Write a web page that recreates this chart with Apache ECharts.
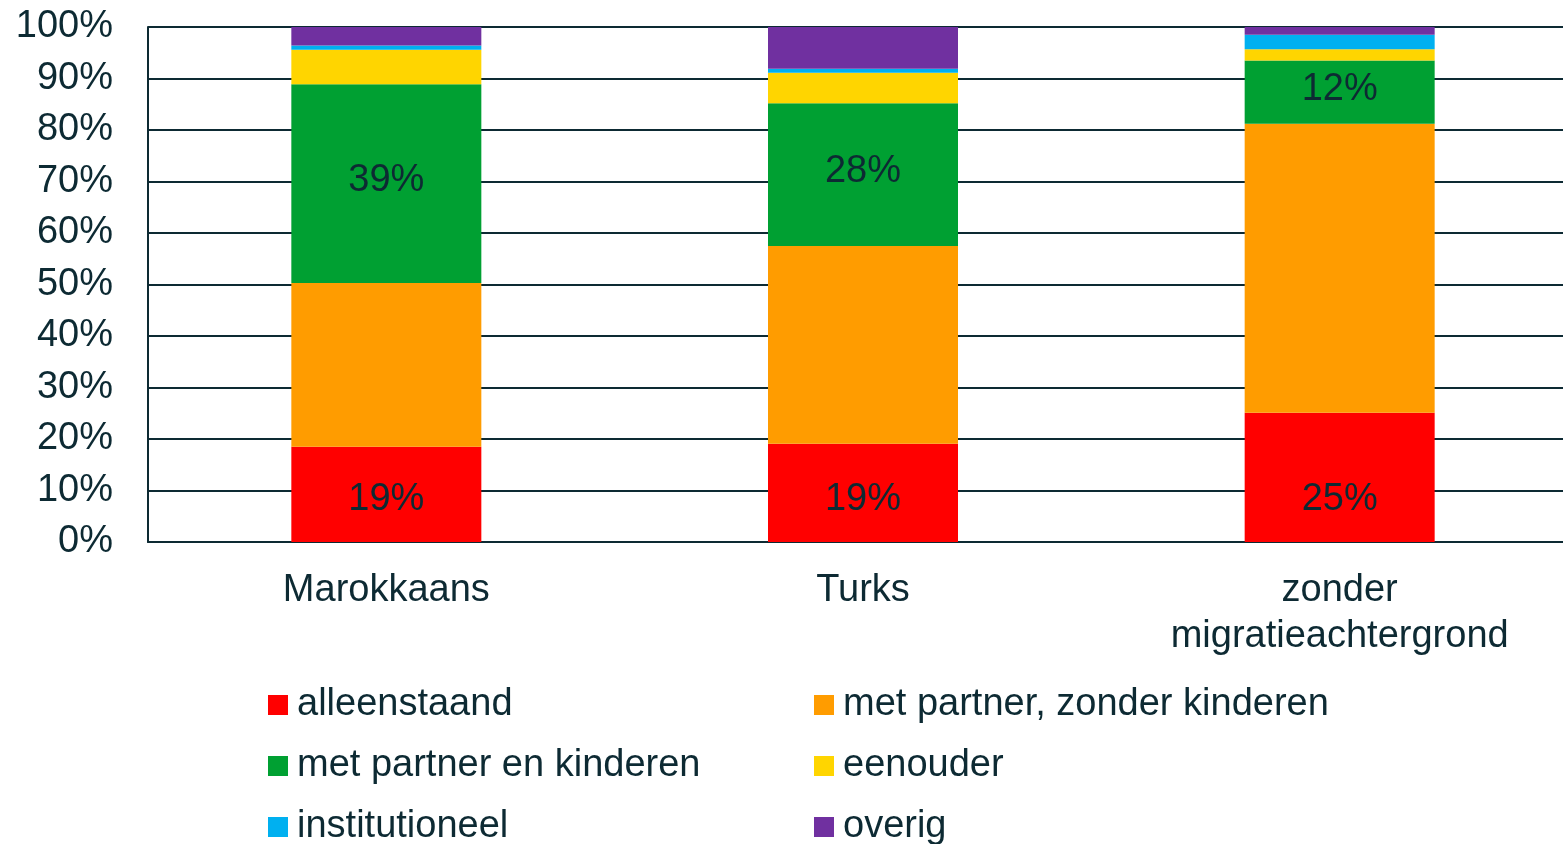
<!DOCTYPE html>
<html>
<head>
    <meta charset="utf-8">
    <title>Huishoudsamenstelling</title>
    <script src="https://cdn.jsdelivr.net/npm/echarts@6/dist/echarts.min.js"></script>
    <style>
        html, body { margin: 0; padding: 0; background: #fff; overflow: hidden; }
        /* plot area runs slightly past the right edge of the window */
        #chart { width: 1580px; height: 844px; }
    </style>
</head>
<body>
    <div id="chart"></div>
    <script>
        // data (percent per group)
        const categories = ['Marokkaans', 'Turks', 'zonder\nmigratieachtergrond'];
        const seriesNames = ['alleenstaand', 'met partner, zonder kinderen', 'met partner en kinderen',
                             'eenouder', 'institutioneel', 'overig'];
        const alleenstaand = [18.5, 19.1, 25.1];
        const partnerZonder = [31.8, 38.4, 56.1];
        const partnerKinderen = [38.6, 27.7, 12.3];
        const eenouder = [6.7, 5.9, 2.2];
        const institutioneel = [0.8, 0.8, 2.8];
        const overig = [3.6, 8.2, 1.6];
        const yTicks = [0, 10, 20, 30, 40, 50, 60, 70, 80, 90, 100];

        const values = [alleenstaand, partnerZonder, partnerKinderen, eenouder, institutioneel, overig];
        const colors = ['#ff0000', '#ff9c00', '#00a032', '#ffd500', '#00b0f0', '#7030a0'];
        const textColor = '#0d2a33';
        const font = 'Liberation Sans, Arial, sans-serif';
        const fs = 38;

        const chart = echarts.init(document.getElementById('chart'));

        const series = values.map((vals, i) => {
            const s = {
                name: seriesNames[i],
                type: 'bar',
                stack: 'total',
                barWidth: 190,
                data: vals,
                itemStyle: { color: colors[i] },
                emphasis: { disabled: true },
                label: { show: false }
            };
            if (i === 0 || i === 2) {
                s.label = {
                    show: true,
                    position: i === 0 ? 'insideBottom' : 'inside',
                    distance: 23,
                    offset: i === 2 ? [0, -3] : [0, 0],
                    formatter: p => Math.round(p.value) + '%',
                    color: textColor,
                    fontSize: fs,
                    fontFamily: font
                };
            }
            return s;
        });

        const legendText = { color: textColor, fontSize: fs, fontFamily: font, lineHeight: 40,
                             padding: [0, 0, 0, 4] };
        const legendBase = {
            orient: 'vertical',
            top: 685,
            height: 200,
            padding: 0,
            itemWidth: 20, itemHeight: 20, itemGap: 21,
            icon: 'rect',
            textStyle: legendText
        };

        chart.setOption({
            animation: false,
            grid: { left: 148, top: 27, width: 1430, height: 515 },
            legend: [
                Object.assign({ data: [seriesNames[0], seriesNames[2], seriesNames[4]], left: 268 }, legendBase),
                Object.assign({ data: [seriesNames[1], seriesNames[3], seriesNames[5]], left: 814 }, legendBase)
            ],
            xAxis: {
                type: 'category',
                data: categories,
                axisLine: { lineStyle: { color: textColor, width: 2 } },
                axisTick: { show: false },
                axisLabel: {
                    color: textColor, fontSize: fs, fontFamily: font,
                    margin: 26, lineHeight: 46
                }
            },
            yAxis: {
                type: 'value',
                min: yTicks[0],
                max: yTicks[yTicks.length - 1],
                interval: 10,
                axisLine: { show: true, lineStyle: { color: textColor, width: 2 } },
                axisTick: { show: false },
                splitLine: { lineStyle: { color: textColor, width: 2 } },
                axisLabel: {
                    color: textColor, fontSize: fs, fontFamily: font, margin: 35,
                    formatter: v => v + '%'
                }
            },
            series: series
        });
    </script>
</body>
</html>
